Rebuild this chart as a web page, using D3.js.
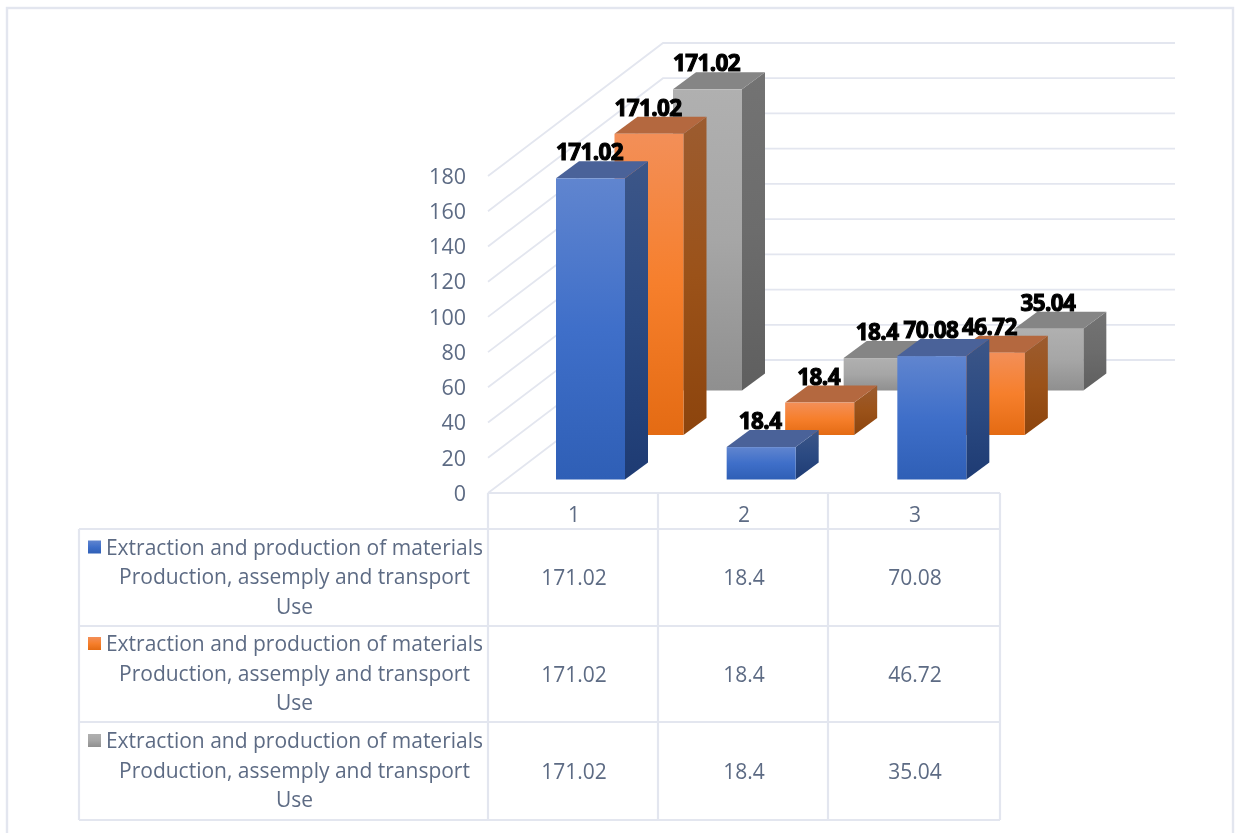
<!DOCTYPE html>
<html><head><meta charset="utf-8">
<script src="https://d3js.org/d3.v7.min.js"></script>
<style>html,body{margin:0;padding:0;background:#fff;overflow:hidden}svg{display:block;filter:blur(0.45px)}</style>
</head><body><div id="c"></div>
<script>
const categories = ["1","2","3"];
const seriesLabels = ["Extraction and production of materials","Production, assemply and transport","Use"];
const seriesKeys = ["blue","orange","gray"];
const blueValues = [171.02,18.4,70.08];
const orangeValues = [171.02,18.4,46.72];
const grayValues = [171.02,18.4,35.04];
const tickValues = [0,20,40,60,80,100,120,140,160,180];
const allValues = [blueValues,orangeValues,grayValues];

const W=1237,H=833;
const svg=d3.select("#c").append("svg").attr("width",W).attr("height",H);
const font='"Open Sans","Noto Sans",sans-serif';
const gridC="#e3e6ef", textC="#5d6b84";

// frame
svg.append("rect").attr("x",7).attr("y",8).attr("width",1226).attr("height",840)
  .attr("fill","#fff").attr("stroke",gridC).attr("stroke-width",2.4);

// scales
const y=d3.scaleLinear().domain([0,180]).range([493,176]);
const x=d3.scaleBand().domain(categories).range([488,1000]);
const depthDX=175, depthDY=-133;   // full floor depth on screen
const barW=69, barDX=23, barDY=-17;
const serDX=58.5, serDY=-44.5;
const baseDX=68, baseDY=-13.5;

// walls
const grid=svg.append("g").attr("fill","none").attr("stroke",gridC).attr("stroke-width",1.8);
tickValues.forEach(t=>{
  const pts=[[x.range()[0],y(t)],[x.range()[0]+depthDX,y(t)+depthDY],[1175,y(t)+depthDY]];
  grid.append("path").attr("d",d3.line()(pts));
});

// gradients
const defs=svg.append("defs");
function grad(id,stops,x2,y2){
  const g=defs.append("linearGradient").attr("id",id).attr("x1",0).attr("y1",0).attr("x2",x2).attr("y2",y2);
  stops.forEach((c,i)=>g.append("stop").attr("offset",i/(stops.length-1)).attr("stop-color",c));
}
const pal={
 blue:{front:["#6085cf","#3f6fc9","#2f5fb6"],side:["#3c5688","#2b4a82","#1e3b73"],top:"#4a6299"},
 orange:{front:["#f38f58","#f67f2c","#e46b13"],side:["#9c5c30","#9b5219","#8c440d"],top:"#b4683f"},
 gray:{front:["#b0b0b0","#a6a6a6","#8f8f8f"],side:["#737373","#6c6c6c","#5f5f5f"],top:"#858585"}
};
seriesKeys.forEach(k=>{
  grad("f-"+k,pal[k].front,0,1);
  grad("s-"+k,pal[k].side,0,1);
});

// bars, back series first
const bars=svg.append("g");
const labels=[];
[2,1,0].forEach(si=>{
  const k=seriesKeys[si];
  [2,1,0].forEach(ci=>{
    const v=allValues[si][ci];
    const x0=x(categories[ci])+baseDX+si*serDX;
    const b=y(0)+baseDY+si*serDY;
    const h=y(0)-y(v);
    const t=b-h;
    const g=bars.append("g");
    g.append("path").attr("fill",`url(#s-${k})`)
      .attr("d",d3.line()([[x0+barW,t],[x0+barW+barDX,t+barDY],[x0+barW+barDX,b+barDY],[x0+barW,b]])+"Z");
    g.append("path").attr("fill",pal[k].top)
      .attr("d",d3.line()([[x0,t],[x0+barDX,t+barDY],[x0+barW+barDX,t+barDY],[x0+barW,t]])+"Z");
    g.append("rect").attr("x",x0).attr("y",t).attr("width",barW).attr("height",h).attr("fill",`url(#f-${k})`);
    labels.push({v,x:x0+barW/2-1,y:t-26});
  });
});

// value labels
svg.append("g").selectAll("text").data(labels).join("text")
  .attr("x",d=>d.x).attr("y",d=>d.y).attr("dy","0.36em").attr("text-anchor","middle")
  .attr("font-family",font).attr("font-size",22.5).attr("font-weight",700)
  .attr("letter-spacing",-0.6)
  .attr("fill","#000").attr("stroke","#000").attr("stroke-width",1.1)
  .text(d=>d.v);

// y tick labels
svg.append("g").selectAll("text").data(tickValues).join("text")
  .attr("x",466).attr("y",d=>y(d)).attr("dy","0.36em").attr("text-anchor","end")
  .attr("font-family",font).attr("font-size",21.5).attr("fill",textC).text(d=>d);

// data table
const rowTops=[529,626,722,820];
const colX=[79,488,658,828,1000];
const tb=svg.append("g").attr("stroke",gridC).attr("stroke-width",2.2).attr("fill","none");
tb.append("path").attr("d",d3.line()([[488,493],[1000,493]]));
rowTops.forEach(r=>tb.append("path").attr("d",d3.line()([[79,r],[1000,r]])));
colX.forEach((c,i)=>tb.append("path").attr("d",d3.line()([[c,(i===0?529:493)],[c,820]])));

const txt=(sel,s,xx,yy,fs)=>sel.append("text").attr("x",xx).attr("y",yy).attr("dy","0.36em")
  .attr("text-anchor","middle").attr("font-family",font).attr("font-size",fs).attr("fill",textC).text(s);
const tg=svg.append("g");
categories.forEach((c,i)=>txt(tg,c,(colX[i+1]+colX[i+2])/2+1,514,21));
allValues.forEach((vals,si)=>{
  const r0=rowTops[si], r1=rowTops[si+1], mid=(r0+r1)/2;
  vals.forEach((v,ci)=>txt(tg,v,(colX[ci+1]+colX[ci+2])/2+1,mid,21));
  tg.append("rect").attr("x",88).attr("y",mid-37).attr("width",13).attr("height",13)
    .attr("fill",`url(#f-${seriesKeys[si]})`);
  seriesLabels.forEach((s,li)=>txt(tg,s,li===0?294.5:294.5,mid-1+(li-1)*29.5,21));
});
</script></body></html>
